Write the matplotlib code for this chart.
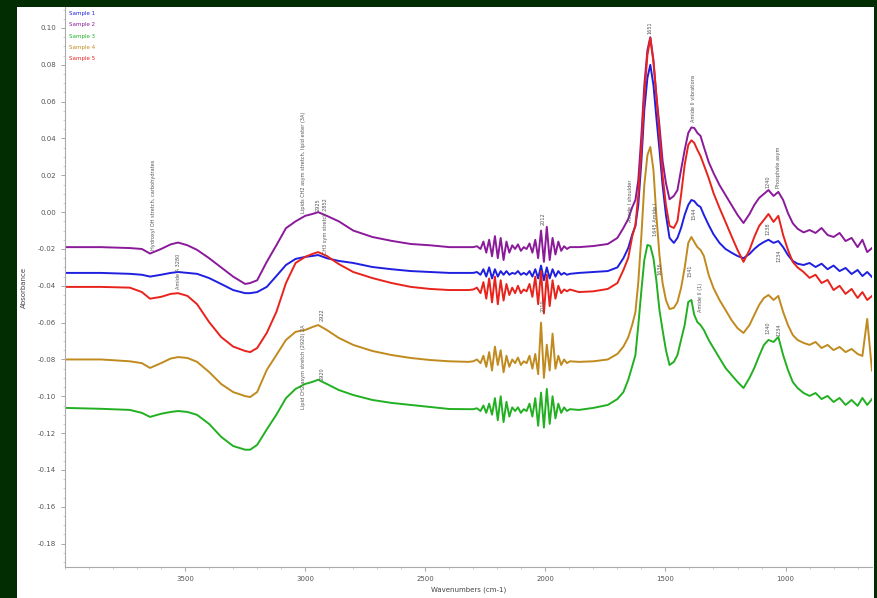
import numpy as np
import matplotlib
matplotlib.use("Agg")
import matplotlib.pyplot as plt
from matplotlib.patches import Rectangle
from matplotlib.ticker import MultipleLocator, FormatStrFormatter

# wavenumber grid (cm-1) shared by all five spectra
wavenumber = [
    4000, 3850, 3730, 3680, 3646, 3600, 3560, 3529, 3490, 3450, 3400, 3350, 3300, 3250, 3229, 3200,
    3160, 3120, 3080, 3040, 3000, 2970, 2946, 2910, 2860, 2800, 2720, 2640, 2560, 2480, 2400, 2320,
    2300, 2285, 2270, 2258, 2246, 2234, 2222, 2210, 2198, 2186, 2174, 2162, 2150, 2138, 2126, 2114,
    2102, 2090, 2078, 2066, 2054, 2042, 2030, 2018, 2006, 1994, 1982, 1970, 1958, 1946, 1934, 1922,
    1910, 1898,
    1860, 1800, 1740, 1700, 1675, 1655, 1638, 1625, 1613, 1600, 1588, 1575, 1563, 1550, 1538, 1525,
    1512, 1498, 1483, 1465, 1450, 1435, 1420, 1405, 1392, 1380, 1367, 1354, 1340, 1320, 1300, 1275,
    1250, 1225, 1200, 1175, 1150, 1130, 1110, 1090, 1071, 1050, 1030, 1010, 990, 970, 950, 925,
    900, 875, 850, 825, 800, 775, 750, 725, 700, 680, 660, 640,
]

sample1 = [  # blue
    -0.033, -0.033, -0.0335, -0.034, -0.035, -0.034, -0.033, -0.0325, -0.033, -0.0335, -0.0358, -0.039, -0.0423, -0.044, -0.044, -0.0434,
    -0.0406, -0.0347, -0.0287, -0.0254, -0.0243, -0.0238, -0.0233, -0.025, -0.0265, -0.0276, -0.0298, -0.031, -0.032, -0.0325, -0.033, -0.033,
    -0.033, -0.0325, -0.034, -0.031, -0.035, -0.030, -0.036, -0.031, -0.035, -0.032, -0.034, -0.032, -0.034, -0.033, -0.0335, -0.032,
    -0.034, -0.033, -0.034, -0.032, -0.035, -0.031, -0.036, -0.029, -0.037, -0.030, -0.036, -0.031, -0.035, -0.032, -0.034, -0.033,
    -0.034, -0.0335,
    -0.033, -0.0325, -0.032, -0.030, -0.025, -0.0195, -0.012, -0.0075, 0.0039, 0.028, 0.0555, 0.073, 0.080, 0.069, 0.0517, 0.034,
    0.0147, -0.0015, -0.014, -0.0167, -0.014, -0.0086, -0.0015, 0.0039, 0.0066, 0.006, 0.0039, 0.0028, -0.0015, -0.007, -0.012, -0.0167,
    -0.020, -0.022, -0.0238, -0.025, -0.0227, -0.020, -0.0178, -0.0162, -0.015, -0.0167, -0.0157, -0.019, -0.0233, -0.0265, -0.028, -0.0287,
    -0.0276, -0.0298, -0.028, -0.031, -0.029, -0.032, -0.0303, -0.0336, -0.0314, -0.0347, -0.0325, -0.0352,
]

sample2 = [  # purple
    -0.019, -0.019, -0.0195, -0.020, -0.0225, -0.020, -0.0175, -0.0165, -0.018, -0.0205, -0.025, -0.030, -0.035, -0.039, -0.0385, -0.037,
    -0.027, -0.018, -0.0087, -0.005, -0.002, -0.001, 0.000, -0.002, -0.005, -0.010, -0.0135, -0.0156, -0.0173, -0.018, -0.019, -0.019,
    -0.019, -0.0185, -0.020, -0.016, -0.022, -0.015, -0.024, -0.013, -0.025, -0.014, -0.026, -0.016, -0.022, -0.018, -0.020, -0.0175,
    -0.021, -0.019, -0.020, -0.017, -0.022, -0.015, -0.025, -0.010, -0.027, -0.008, -0.026, -0.014, -0.023, -0.016, -0.021, -0.0185,
    -0.020, -0.019,
    -0.019, -0.0184, -0.0173, -0.014, -0.0086, -0.0037, 0.0028, 0.0066, 0.0175, 0.042, 0.069, 0.088, 0.095, 0.0826, 0.0636, 0.047,
    0.028, 0.0158, 0.007, 0.0088, 0.012, 0.023, 0.0337, 0.043, 0.046, 0.0457, 0.043, 0.0414, 0.0354, 0.0272, 0.0213, 0.0147,
    0.0093, 0.0039, -0.0015, -0.0059, -0.001, 0.0039, 0.0077, 0.0099, 0.012, 0.0088, 0.011, 0.0066, -0.0005, -0.006, -0.009, -0.011,
    -0.0097, -0.0113, -0.0086, -0.0124, -0.0135, -0.0113, -0.0157, -0.014, -0.019, -0.015, -0.0217, -0.0195,
]

sample3 = [  # green
    -0.1063, -0.1068, -0.1074, -0.109, -0.1112, -0.1095, -0.1085, -0.108, -0.1085, -0.1101, -0.115, -0.122, -0.127, -0.129, -0.129, -0.1264,
    -0.118, -0.110, -0.101, -0.096, -0.0933, -0.0922, -0.091, -0.0933, -0.0966, -0.0993, -0.102, -0.1036, -0.1047, -0.1058, -0.1069, -0.107,
    -0.107, -0.1065, -0.108, -0.105, -0.109, -0.104, -0.110, -0.101, -0.113, -0.100, -0.114, -0.103, -0.111, -0.106, -0.108, -0.106,
    -0.109, -0.107, -0.108, -0.104, -0.111, -0.101, -0.116, -0.098, -0.117, -0.096, -0.115, -0.100, -0.112, -0.104, -0.109, -0.106,
    -0.108, -0.107,
    -0.1074, -0.1063, -0.1047, -0.1015, -0.0977, -0.0911, -0.0835, -0.0776, -0.0613, -0.0423, -0.026, -0.0178, -0.0184, -0.025, -0.0369, -0.0531,
    -0.064, -0.0749, -0.083, -0.0813, -0.0776, -0.0694, -0.0613, -0.0488, -0.0477, -0.0558, -0.0597, -0.0613, -0.064, -0.0694, -0.0738, -0.0792,
    -0.0846, -0.0884, -0.0922, -0.0955, -0.090, -0.0846, -0.0781, -0.0721, -0.0694, -0.0705, -0.0678, -0.0776, -0.0857, -0.0922, -0.0955, -0.0982,
    -0.0998, -0.0982, -0.1015, -0.0998, -0.1031, -0.1009, -0.1047, -0.102, -0.1052, -0.1009, -0.1047, -0.1015,
]

sample4 = [  # orange
    -0.080, -0.080, -0.081, -0.082, -0.0846, -0.082, -0.0795, -0.0787, -0.0792, -0.0813, -0.0868, -0.0933, -0.0977, -0.0999, -0.1004, -0.0977,
    -0.0857, -0.0776, -0.0694, -0.065, -0.064, -0.0624, -0.0613, -0.064, -0.0683, -0.0721, -0.0754, -0.0776, -0.0792, -0.0803, -0.081, -0.0813,
    -0.081, -0.080, -0.082, -0.078, -0.084, -0.076, -0.086, -0.073, -0.083, -0.075, -0.087, -0.078, -0.084, -0.080, -0.082, -0.079,
    -0.083, -0.081, -0.082, -0.078, -0.085, -0.077, -0.088, -0.060, -0.090, -0.072, -0.086, -0.066, -0.085, -0.078, -0.083, -0.080,
    -0.082, -0.081,
    -0.0813, -0.081, -0.080, -0.077, -0.073, -0.068, -0.061, -0.0542, -0.038, -0.0124, 0.0147, 0.031, 0.0354, 0.0229, -0.0015, -0.0233,
    -0.0385, -0.0477, -0.0526, -0.052, -0.0488, -0.0412, -0.0303, -0.0167, -0.0135, -0.0162, -0.019, -0.0205, -0.0238, -0.0341, -0.0412, -0.0477,
    -0.0531, -0.0586, -0.063, -0.0656, -0.0613, -0.0558, -0.0504, -0.0466, -0.045, -0.0477, -0.0455, -0.0542, -0.0613, -0.0667, -0.0694, -0.071,
    -0.0721, -0.0705, -0.0738, -0.0721, -0.0749, -0.0732, -0.076, -0.0743, -0.077, -0.0781, -0.058, -0.086,
]

sample5 = [  # red
    -0.0406, -0.0406, -0.041, -0.0434, -0.047, -0.046, -0.0444, -0.044, -0.0455, -0.050, -0.0597, -0.0678, -0.073, -0.0754, -0.076, -0.0738,
    -0.0656, -0.0542, -0.0385, -0.0276, -0.0243, -0.0227, -0.0217, -0.0238, -0.0282, -0.0325, -0.0358, -0.0385, -0.0406, -0.0417, -0.0423, -0.0423,
    -0.042, -0.041, -0.044, -0.038, -0.047, -0.036, -0.049, -0.035, -0.050, -0.037, -0.048, -0.039, -0.045, -0.041, -0.044, -0.040,
    -0.044, -0.042, -0.043, -0.039, -0.046, -0.035, -0.050, -0.032, -0.055, -0.034, -0.051, -0.037, -0.047, -0.040, -0.044, -0.042,
    -0.043, -0.042,
    -0.0434, -0.043, -0.0417, -0.0385, -0.0314, -0.0249, -0.013, -0.007, 0.0093, 0.034, 0.0636, 0.0853, 0.0946, 0.0815, 0.0636, 0.042,
    0.020, 0.0039, -0.0075, -0.0086, -0.0048, 0.0093, 0.0256, 0.0365, 0.039, 0.0376, 0.0338, 0.0305, 0.0256, 0.0185, 0.0104, 0.0023,
    -0.0053, -0.013, -0.0205, -0.027, -0.0205, -0.0135, -0.0075, -0.0042, -0.001, -0.0053, -0.002, -0.0124, -0.0205, -0.027, -0.030, -0.0325,
    -0.0357, -0.034, -0.0385, -0.0368, -0.0423, -0.040, -0.0444, -0.0417, -0.0466, -0.0434, -0.0477, -0.0455,
]

labels = ["Sample 1", "Sample 2", "Sample 3", "Sample 4", "Sample 5"]
colors = ["#1f1fe0", "#8a1a9a", "#22b022", "#c08a1e", "#e8231c"]
xtick_values = [3500, 3000, 2500, 2000, 1500, 1000]

# peak annotations (wavenumber, absorbance at text base, text)
ann_wn = [3633, 3529, 3008, 2946, 2917, 3008, 2930, 2930, 2010, 2010, 1646, 1563, 1542, 1521, 1383, 1383, 1396, 1354, 1071, 1029, 1071, 1029, 1071, 1029]
ann_y = [-0.0205, -0.042, -0.0005, 0.0005, -0.023, -0.107, -0.059, -0.091, -0.007, -0.054, -0.0055, 0.097, -0.013, -0.034, 0.049, -0.004, -0.035, -0.054, 0.013, 0.013, -0.0125, -0.027, -0.066, -0.067]
ann_text = ["Hydroxyl OH stretch, carbohydrates", "Amide A 3280", "Lipids CH2 asym stretch, lipid ester (3A)", "2925",
            "CH3 sym stretch 2852", "Lipid CH2 asym stretch (2920) 2A", "2922", "2920", "2012", "2010",
            "Amide I shoulder", "1651", "1645 Amide I", "1636", "Amide II vibrations", "1544", "1541", "Amide II (1)",
            "1240", "Phosphate asym", "1238", "1234", "1240", "1234"]

fig = plt.figure(figsize=(8.78, 5.98), dpi=100)
fig.patch.set_facecolor("#022c02")
fig.patches.append(Rectangle((17 / 878, 0), (874 - 17) / 878, 591 / 598,
                             transform=fig.transFigure, facecolor="white", edgecolor="none", zorder=-5))

ax = fig.add_axes([65 / 878, 31 / 598, (872 - 65) / 878, 560 / 598])
ax.set_facecolor("white")
ax.set_zorder(2)

for vals, lab, c in zip([sample1, sample2, sample3, sample4, sample5], labels, colors):
    ax.plot(wavenumber, vals, color=c, lw=1.4, label=lab)

for wn, y, t in zip(ann_wn, ann_y, ann_text):
    ax.text(wn, y, t, rotation=90, ha="center", va="bottom", fontsize=3.6, color="#555555", clip_on=False)

ax.set_xlim(4000, 640)
ax.set_ylim(-0.1927, 0.1114)
ax.set_xticks(xtick_values)
ax.xaxis.set_minor_locator(MultipleLocator(100))
ax.yaxis.set_major_locator(MultipleLocator(0.02))
ax.yaxis.set_minor_locator(MultipleLocator(0.005))
ax.yaxis.set_major_formatter(FormatStrFormatter("%.2f"))
ax.tick_params(axis="both", which="major", labelsize=5, colors="#999999", labelcolor="#555555", length=3, width=0.6)
ax.tick_params(axis="both", which="minor", colors="#bbbbbb", length=1.5, width=0.5)

for side in ["top", "right"]:
    ax.spines[side].set_visible(False)
for side in ["left", "bottom"]:
    ax.spines[side].set_color("#aaaaaa")
    ax.spines[side].set_linewidth(0.8)

ax.set_xlabel("Wavenumbers (cm-1)", fontsize=5, color="#444444", labelpad=3)
ax.set_ylabel("Absorbance", fontsize=5, color="#444444", labelpad=8)

leg = ax.legend(loc="upper left", bbox_to_anchor=(0.0, 1.0), frameon=False, fontsize=4,
                handlelength=0, handletextpad=0.1, labelcolor="linecolor",
                borderaxespad=0.3, labelspacing=1.15)
for h in leg.legend_handles:
    h.set_visible(False)

fig.savefig("out.png", dpi=100, facecolor=fig.get_facecolor())
